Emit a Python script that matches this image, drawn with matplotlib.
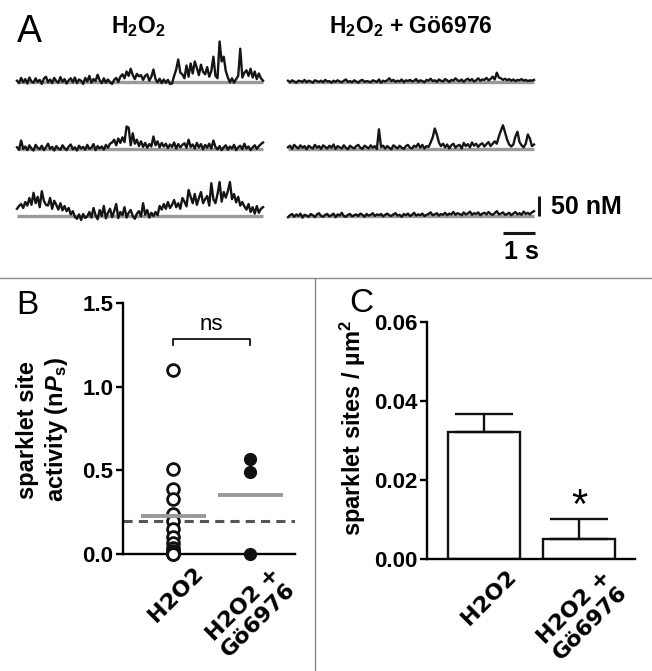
import numpy as np
import matplotlib
matplotlib.use("Agg")
from matplotlib import pyplot as plt
from matplotlib.lines import Line2D
from matplotlib.transforms import offset_copy

plt.rcParams['font.family'] = ['Liberation Sans', 'DejaVu Sans']
plt.rcParams['mathtext.fontset'] = 'custom'
plt.rcParams['mathtext.rm'] = 'Liberation Sans'
plt.rcParams['mathtext.bf'] = 'Liberation Sans:bold'
plt.rcParams['mathtext.it'] = 'Liberation Sans:italic'
plt.rcParams['mathtext.bfit'] = 'Liberation Sans:bold:italic'

# ---- data -------------------------------------------------------------
# panel A: sparklet traces (nM above baseline)
h2o2_1 = [2, -4, 9, -2, 6, -5, 10, 0, -3, 8, -1, 4, -6, 7, 12, -2, 5, -4, 9, 1, -3, 11,
          -1, 6, -5, 3, 8, -2, 10, -4, 5, 2, -6, 9, 0, 14, -3, 6, 1, 17, 3, -4, 8, -3, 5,
          -2, -6, 4, 9, -1, 12, 18, 8, 25, 14, 32, 16, 6, 19, 13, 16, 4, 14, 18, 2, 12, 30,
          6, -2, 7, -4, 5, -3, 4, -6, -5, 14, 30, 55, 22, 18, 8, 40, 12, 45, 20, 50, 34,
          16, 42, 24, 18, 36, 12, 26, 62, 14, 8, 100, 50, 62, 26, 10, -2, 8, -3, 6, 14, 82,
          10, 22, 28, 14, 32, 10, 25, 6, 20, 8, 2]
h2o2_2 = [3, -3, 20, -1, 5, -4, 8, 0, -5, 9, 2, -2, 7, -4, 3, 12, -1, 4, -5, 6, 0, -3, 8,
          1, -4, 5, 10, -2, 3, -5, 7, 0, 4, -3, 9, -1, 2, 11, -4, 6, 0, 5, -3, 9, 2, 12, 15,
          22, 8, 25, 14, 28, 16, 55, 52, 8, 38, 12, 22, 6, 18, 4, 14, 2, 11, 5, 30, 8, 18,
          3, 14, 5, 12, 1, 10, 4, 15, 0, 11, 3, 9, 13, 2, 22, 4, 10, 0, 14, 3, 11, -2, 9, 2,
          12, 0, 20, 4, -2, 6, -4, 3, 8, -3, 5, 0, 9, -4, 3, 7, -2, 12, 0, 5, -4, 3, 8, -1,
          6, 11, 15]
h2o2_3 = [18, 25, 30, 20, 35, 26, 45, 28, 58, 32, 48, 22, 62, 38, 28, 26, 45, 18, 38, 28,
          16, 32, 14, 25, 12, 20, 4, 12, -2, -7, 4, -10, 5, -5, -1, 10, -4, 20, 2, -8, 15,
          0, 25, -6, 8, 18, -3, 12, 30, -5, 10, 2, 22, -4, 8, 15, 0, -7, 6, 12, -1, 32, 3,
          15, -4, 8, 0, 10, 2, 25, 16, 30, 18, 35, 20, 28, 40, 22, 32, 18, 45, 36, 24, 65,
          48, 32, 55, 28, 45, 60, 32, 42, 50, 26, 82, 42, 32, 55, 85, 36, 60, 46, 62, 85,
          42, 55, 34, 48, 26, 35, 24, 16, 30, 10, 22, 6, 25, 8, 18, 22]
go_1 = [2, -2, 3, 0, -3, 2, 1, -1, 4, -2, 2, 0, -3, 3, 1, -1, 2, -2, 4, 0, 1, -3, 2, -1,
        3, 0, -2, 2, 5, -1, 1, -2, 3, 0, -3, 2, 4, -1, 1, 0, -2, 3, 1, -1, 5, -3, 2, 0, 3,
        8, 1, 4, -1, 2, 0, 5, -2, 3, 1, 4, 0, 2, 6, -1, 3, 1, -2, 4, 2, 7, 1, 3, -1, 5, 2,
        0, 6, 3, -1, 4, 2, 8, 3, 1, 5, -1, 4, 7, 2, 6, 0, 3, 8, 2, 5, 4, 9, 3, 6, 12, 5,
        22, 10, 8, 4, 7, 3, 6, 2, 5, 1, 4, 3, 6, 2, 4, 1, 3, 2, 4]
go_2 = [3, 7, -1, 9, 4, 0, 8, 2, 6, -2, 7, 3, 0, 9, 2, 6, -1, 8, 4, 0, 7, 2, 10, -1, 6,
        3, 0, 8, 2, -2, 7, 3, 0, 6, 9, 2, -1, 7, 4, 0, 8, 2, 6, -1, 48, 4, 7, 0, 6, 2, -2,
        8, 4, 0, 7, 2, -1, 6, 9, 2, 0, 7, 4, 12, 2, 9, 0, 6, 4, 15, 28, 50, 35, 15, 6, 12,
        3, 10, 0, 8, 12, 2, 7, 9, 0, 14, 6, 11, 3, 15, 7, 12, 4, 10, 13, 5, 11, 16, 6, 12,
        18, 12, 30, 45, 58, 40, 22, 10, 5, 10, 30, 42, 16, 8, 3, 12, 35, 25, 6, 10]
go_3 = [-3, 2, 5, -2, 4, 0, 6, -4, 3, 1, -2, 5, 2, -3, 4, 7, 0, -2, 3, 5, -1, 2, 6, -3, 4,
        1, 8, 0, -2, 3, 5, -1, 2, 4, 0, 6, 3, -2, 5, 1, 3, 7, 0, 4, 2, 5, -1, 3, 6, 2, 0,
        4, 7, 1, 3, -2, 5, 2, 6, 0, 3, 8, 1, 4, 2, 6, 0, 3, 5, 9, 2, 4, 7, 1, 5, 3, 8, 2,
        6, 4, 10, 3, 7, 5, 2, 9, 4, 6, 11, 3, 7, 5, 9, 2, 6, 8, 4, 10, 5, 3, 7, 12, 4, 6,
        9, 3, 5, 8, 2, 6, 10, 4, 7, 3, 11, 5, 8, 4, 9, 12]
traces_left = [h2o2_1, h2o2_2, h2o2_3]
traces_right = [go_1, go_2, go_3]

# panel B: sparklet site activity (nPs)
b_h2o2 = [1.10, 0.51, 0.39, 0.33, 0.24, 0.20, 0.15, 0.10, 0.065, 0.035, 0.02, 0.01, 0.0, 0.0]
b_go = [0.57, 0.49, 0.0]
b_threshold = 0.2

# panel C: sparklet sites / um2
c_labels = ['H2O2', 'H2O2 +\nGö6976']
c_mean = [0.0322, 0.0051]
c_sem = [0.0044, 0.0051]

W, H = 652, 671
fig = plt.figure(figsize=(W / 100, H / 100), dpi=100)


def fx(x):
    return x / W


def fy(y):
    return 1 - y / H


# ---- panel A ----------------------------------------------------------
px_per_s = 32.0       # 1 s scale bar
nm_per_px = 2.5       # 50 nM scale bar
top_h = 278
axA = fig.add_axes([0, fy(top_h), 1, top_h / H])
axA.set_xlim(0, W / px_per_s)
axA.set_ylim(0, top_h * nm_per_px)
axA.axis('off')

dur = 246 / px_per_s
rows = [81.5, 148.5, 216]
for x0, traces in [(17, traces_left), (288, traces_right)]:
    t0 = x0 / px_per_s
    for yrow, vals in zip(rows, traces):
        base = (top_h - yrow) * nm_per_px
        t = np.linspace(t0, t0 + dur, len(vals))
        axA.plot([t0, t0 + dur], [base, base], color='#9a9a9a', lw=2.4,
                 solid_capstyle='butt')
        axA.plot(t, base + np.array(vals), color='#151515', lw=1.7)

# scale bars
sb_x = 539 / px_per_s
sb_base = (top_h - 216) * nm_per_px
axA.plot([sb_x, sb_x], [sb_base, sb_base + 50], color='#151515', lw=2.2,
         solid_capstyle='butt')
hb_y = (top_h - 232.7) * nm_per_px
axA.plot([503 / px_per_s, 503 / px_per_s + 1], [hb_y, hb_y], color='#151515', lw=2.2,
         solid_capstyle='butt')
fig.text(fx(551), fy(207), '50 nM', fontsize=18, weight='bold', va='center', ha='left')
fig.text(fx(521), fy(252), '1 s', fontsize=18, weight='bold', va='center', ha='center')

fig.text(fx(29), fy(32), 'A', fontsize=27, va='center', ha='center')
fig.text(fx(138), fy(27), r'$\mathbf{H_2O_2}$', fontsize=16.5, va='center', ha='center')
fig.text(fx(411), fy(27), r'$\mathbf{H_2O_2}$ + Gö6976', fontsize=16.5, weight='bold',
         va='center', ha='center')

# dividers
fig.add_artist(Line2D([0, 1], [fy(278), fy(278)], color='#8a8a8a', lw=1))
fig.add_artist(Line2D([fx(315), fx(315)], [fy(278), 0], color='#8a8a8a', lw=1))

xlab_kw = dict(family='DejaVu Sans', weight='bold', fontsize=16, rotation=45,
               rotation_mode='anchor', ha='right', va='top', multialignment='center',
               linespacing=1.12)


def style_axis(ax):
    for s in ['top', 'right']:
        ax.spines[s].set_visible(False)
    for s in ['left', 'bottom']:
        ax.spines[s].set_linewidth(1.7)
    ax.tick_params(axis='y', direction='out', length=5, width=1.7, labelsize=16, pad=2)
    ax.tick_params(axis='x', length=0, labelbottom=False)
    for lab in ax.get_yticklabels():
        lab.set_fontweight('bold')


# ---- panel B ----------------------------------------------------------
axB = fig.add_axes([fx(123), fy(554), (295 - 123) / W, (554 - 303) / H])
axB.set_xlim(0.35, 2.58)
axB.set_ylim(0, 1.5)
axB.set_yticks([0, 0.5, 1.0, 1.5])
axB.set_yticklabels(['0.0', '0.5', '1.0', '1.5'])
axB.set_xticks([1, 2])
style_axis(axB)

axB.axhline(b_threshold, color='#555555', lw=2.2, dashes=(3, 2), zorder=1)
axB.plot([1] * len(b_h2o2), b_h2o2, 'o', ms=8.5, mfc='white', mec='#111', mew=2,
         clip_on=False, zorder=3)
axB.plot([2] * len(b_go), b_go, 'o', ms=8.5, mfc='#111', mec='#111', clip_on=False,
         zorder=3)
for xc, vals in [(1, b_h2o2), (2, b_go)]:
    axB.plot([xc - 0.42, xc + 0.42], [np.mean(vals)] * 2, color='#999999', lw=2.8,
             solid_capstyle='butt', zorder=4)
axB.plot([1, 1, 2, 2], [1.25, 1.287, 1.287, 1.25], color='#111', lw=1.3, clip_on=False)
axB.text(1.5, 1.31, 'ns', ha='center', va='bottom', fontsize=16)

trB = offset_copy(axB.get_xaxis_transform(), fig=fig, x=14, y=-7, units='points')
for xc, lab in zip([1, 2], c_labels):
    axB.text(xc, 0, lab, transform=trB, **xlab_kw)

fig.text(fx(27), fy(306), 'B', fontsize=24, va='center', ha='center')
fig.text(fx(43), fy(430), 'sparklet site\nactivity (n$\\mathbfit{P}_\\mathbf{s}$)',
         rotation=90, fontsize=17, weight='bold', ha='center', va='center',
         multialignment='center', linespacing=1.2)

# ---- panel C ----------------------------------------------------------
axC = fig.add_axes([fx(427), fy(559.3), (635 - 427) / W, (559.3 - 321.7) / H])
axC.set_xlim(0.4, 2.59)
axC.set_ylim(0, 0.06)
axC.set_yticks([0, 0.02, 0.04, 0.06])
axC.set_yticklabels(['0.00', '0.02', '0.04', '0.06'])
axC.set_xticks([1, 2])
style_axis(axC)

xs = [1, 2]
axC.bar(xs, c_mean, width=0.76, color='white', edgecolor='#111', lw=1.7, zorder=2)
axC.errorbar(xs, c_mean, yerr=[[0, 0], c_sem], fmt='none', ecolor='#111',
             elinewidth=1.7, capsize=21, capthick=1.7, zorder=3)
axC.text(2, c_mean[1] + c_sem[1] - 0.002, '*', ha='center', va='bottom', fontsize=30)

trC = offset_copy(axC.get_xaxis_transform(), fig=fig, x=16, y=-5, units='points')
for xc, lab in zip(xs, c_labels):
    axC.text(xc, 0, lab, transform=trC, **xlab_kw)

fig.text(fx(361), fy(304), 'C', fontsize=24, va='center', ha='center')
fig.text(fx(353), fy(428), 'sparklet sites / µm$^\\mathbf{2}$', rotation=90, fontsize=17,
         weight='bold', ha='center', va='center')

fig.savefig('out.png', dpi=100)
